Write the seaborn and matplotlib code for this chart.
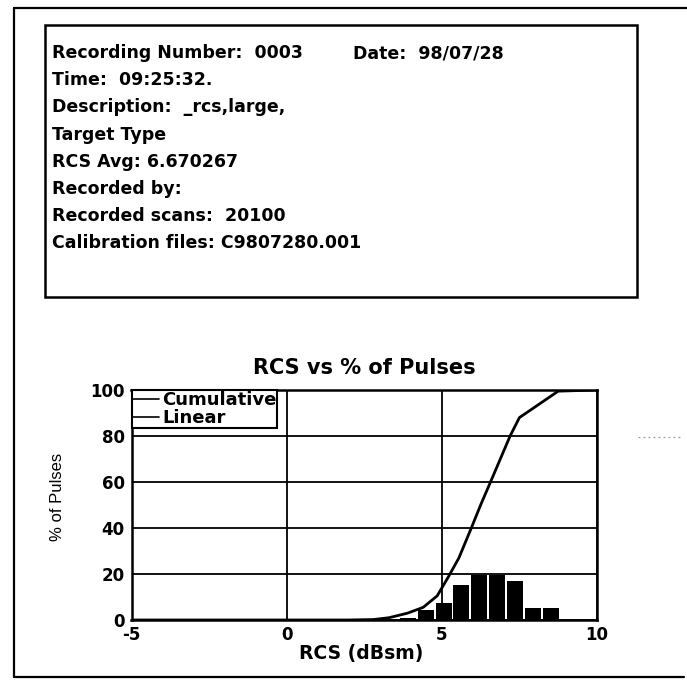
import numpy as np
import matplotlib
matplotlib.use("Agg")
import matplotlib.pyplot as plt
from matplotlib.lines import Line2D
from matplotlib.patches import Rectangle
import seaborn as sns

# ---- data -------------------------------------------------------------
# cumulative distribution of pulses (percent) versus RCS (dBsm)
rcs_cum = [-5.0, 2.0, 2.8, 3.3, 3.9, 4.4, 4.85, 5.2, 5.55, 5.95, 6.25, 6.6, 7.2, 7.5, 8.75, 10.0]
pct_cum = [0.0, 0.0, 0.2, 1.0, 3.0, 5.5, 10.5, 18.5, 27.0, 40.0, 50.0, 61.0, 80.0, 88.0, 99.5, 100.0]

# linear (per-bin) distribution
bin_edges = [3.04, 3.62, 4.19, 4.77, 5.34, 5.92, 6.49, 7.07, 7.64, 8.22, 8.79]
bin_pct = [0.3, 0.9, 4.2, 7.5, 15.2, 19.5, 19.5, 17.0, 5.3, 5.3]

x_ticks = [-5, 0, 5, 10]
y_ticks = [0, 20, 40, 60, 80, 100]

header_lines = [
    "Recording Number:  0003",
    "Time:  09:25:32.",
    "Description:  _rcs,large,",
    "Target Type",
    "RCS Avg: 6.670267",
    "Recorded by:",
    "Recorded scans:  20100",
    "Calibration files: C9807280.001",
]
header_date = "Date:  98/07/28"

title = "RCS vs % of Pulses"
x_label = "RCS (dBsm)"
y_label = "% of Pulses"
legend_labels = ["Cumulative", "Linear"]

# ---- figure -----------------------------------------------------------
sns.set_theme(style="white")
plt.rcParams["font.family"] = ["DejaVu Sans"]
plt.rcParams["font.weight"] = "bold"
plt.rcParams["text.color"] = "black"

W, H = 687, 694
fig = plt.figure(figsize=(W / 100, H / 100), dpi=100)
fig.patch.set_facecolor("white")


def fx(px):
    return px / W


def fy(py):
    return 1 - py / H


# page frame (left, top, bottom rules)
for xs, ys in [([14, 14], [8, 677]), ([14, 687], [8, 8]), ([14, 684], [677, 677])]:
    fig.add_artist(Line2D([fx(v) for v in xs], [fy(v) for v in ys],
                          color="black", lw=1.6, transform=fig.transFigure))

# header box
fig.add_artist(Rectangle((fx(45), fy(297)), fx(637) - fx(45), fy(25) - fy(297),
                         transform=fig.transFigure, fill=False,
                         edgecolor="black", lw=1.8))

line_y = [53, 80, 107, 135, 162, 189, 216, 243]
for txt, py in zip(header_lines, line_y):
    fig.text(fx(52), fy(py), txt, fontsize=12.5, fontweight="bold",
             ha="left", va="center", color="black")
fig.text(fx(353), fy(line_y[0]), header_date, fontsize=12.5, fontweight="bold",
         ha="left", va="center", color="black")

# faint scanner mark at the right margin
fig.add_artist(Line2D([fx(638), fx(682)], [fy(437), fy(437)], color="0.6",
                      lw=0.9, ls=(0, (1.5, 2.5)), transform=fig.transFigure))

# ---- chart ------------------------------------------------------------
ax_l, ax_r, ax_t, ax_b = 131.5, 597, 390, 620
ax = fig.add_axes([fx(ax_l), fy(ax_b), fx(ax_r) - fx(ax_l), fy(ax_t) - fy(ax_b)])
ax.set_facecolor("white")

centers = [(a + b) / 2 for a, b in zip(bin_edges[:-1], bin_edges[1:])]
sns.histplot(x=centers, weights=bin_pct, bins=bin_edges, shrink=0.9,
             color="black", alpha=1.0, linewidth=0, ax=ax, zorder=3)
sns.lineplot(x=rcs_cum, y=pct_cum, color="black", lw=2.0, ax=ax,
             legend=False, zorder=4)

ax.set_xlim(-5, 10)
ax.set_ylim(0, 100)
ax.set_xticks(x_ticks)
ax.set_yticks(y_ticks)
ax.set_xticklabels([str(v) for v in x_ticks], fontsize=12, fontweight="bold")
ax.set_yticklabels([str(v) for v in y_ticks], fontsize=12, fontweight="bold")
ax.tick_params(axis="both", length=0, colors="black")
ax.tick_params(axis="x", pad=4)
ax.tick_params(axis="y", pad=5)

ax.grid(True, color="black", lw=1.3)
ax.set_axisbelow(True)
for sp in ax.spines.values():
    sp.set_color("black")
    sp.set_linewidth(1.8)

ax.set_title(title, fontsize=15, fontweight="bold", y=(ax_b - 368) / (ax_b - ax_t),
             va="center", color="black", pad=0)
ax.set_xlabel(x_label, fontsize=13.5, fontweight="bold", color="black")
ax.xaxis.set_label_coords((361.5 - ax_l) / (ax_r - ax_l), (ax_b - 653) / (ax_b - ax_t))
ax.xaxis.label.set_va("center")
ax.set_ylabel(y_label, fontsize=12, fontweight="normal", color="black",
              family=["Liberation Sans", "DejaVu Sans"])
ax.yaxis.set_label_coords((57 - ax_l) / (ax_r - ax_l), (ax_b - 497) / (ax_b - ax_t))
ax.yaxis.label.set_va("center")

handles = [Line2D([], [], color="black", lw=1.2) for _ in legend_labels]
leg = ax.legend(handles, legend_labels, loc="upper left", bbox_to_anchor=(0.0, 1.0),
                borderaxespad=0.0, frameon=True, fancybox=False, framealpha=1.0,
                edgecolor="black", prop={"size": 13, "weight": "bold"},
                labelcolor="black",
                handlelength=1.5, handletextpad=0.15, borderpad=0.05,
                labelspacing=0.0)
leg.get_frame().set_linewidth(1.5)
leg.set_zorder(5)

fig.savefig("out.png", dpi=100, facecolor="white")
